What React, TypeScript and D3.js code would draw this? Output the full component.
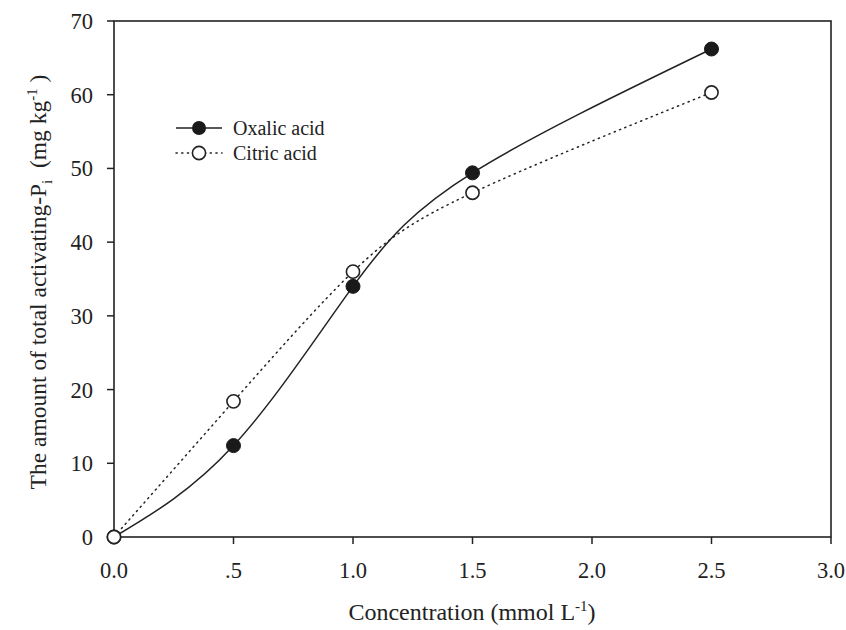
import React from "react";
import { scaleLinear, line, curveNatural } from "d3";

const concentrations = [0, 0.5, 1.0, 1.5, 2.5];
const oxalicValues = [0, 12.4, 34.0, 49.4, 66.2];
const citricValues = [0, 18.4, 36.0, 46.7, 60.3];
const xTicks = [0, 0.5, 1.0, 1.5, 2.0, 2.5, 3.0];
const xTickLabels = ["0.0", ".5", "1.0", "1.5", "2.0", "2.5", "3.0"];
const yTicks = [0, 10, 20, 30, 40, 50, 60, 70];

const W = 846;
const H = 630;
const margin = { left: 114, top: 21, right: 15, bottom: 93 };
const FONT = "'Liberation Serif', 'Times New Roman', serif";
const INK = "#222";

function App() {
  const x = scaleLinear().domain([0, 3]).range([margin.left, W - margin.right]);
  const y = scaleLinear().domain([0, 70]).range([H - margin.bottom, margin.top]);

  const pts = (vals: number[]) => concentrations.map((c, i) => [c, vals[i]] as [number, number]);
  const path = line<[number, number]>()
    .x(d => x(d[0]))
    .y(d => y(d[1]))
    .curve(curveNatural);

  const x0 = x(0), x1 = x(3), y0 = y(0), y1 = y(70);

  return (
    <svg width={W} height={H} style={{ position: "absolute", left: 0, top: 0 }} fontFamily={FONT}>
      <rect width={W} height={H} fill="#fff" />
      {/* frame */}
      <rect x={x0} y={y1} width={x1 - x0} height={y0 - y1} fill="none" stroke={INK} strokeWidth={1.6} />

      {/* x ticks */}
      {xTicks.map((t, i) => (
        <g key={"x" + i}>
          <line x1={x(t)} x2={x(t)} y1={y0} y2={y0 + 7} stroke={INK} strokeWidth={1.5} />
          <text x={x(t)} y={578} textAnchor="middle" fontSize={22.5} fill={INK}>{xTickLabels[i]}</text>
        </g>
      ))}

      {/* y ticks */}
      {yTicks.map(t => (
        <g key={"y" + t}>
          <line x1={x0 - 7} x2={x0} y1={y(t)} y2={y(t)} stroke={INK} strokeWidth={1.5} />
          <text x={x0 - 21} y={y(t) + 8} textAnchor="end" fontSize={22.5} fill={INK}>{t}</text>
        </g>
      ))}

      {/* curves */}
      <path d={path(pts(citricValues)) || ""} fill="none" stroke={INK} strokeWidth={1.5}
        strokeDasharray="1.2 4.5" strokeLinecap="round" />
      <path d={path(pts(oxalicValues)) || ""} fill="none" stroke={INK} strokeWidth={1.5} />

      {/* markers */}
      {concentrations.map((c, i) => (
        <circle key={"o" + i} cx={x(c)} cy={y(oxalicValues[i])} r={7} fill="#1a1a1a" stroke="#1a1a1a" strokeWidth={1} />
      ))}
      {concentrations.map((c, i) => (
        <circle key={"c" + i} cx={x(c)} cy={y(citricValues[i])} r={6.6} fill="#fff" stroke={INK} strokeWidth={1.6} />
      ))}

      {/* legend */}
      <line x1={176} x2={222} y1={128} y2={128} stroke={INK} strokeWidth={1.5} />
      <circle cx={199} cy={128} r={7} fill="#1a1a1a" />
      <text x={233} y={135} fontSize={20} fill={INK}>Oxalic acid</text>
      <line x1={176} x2={222} y1={153} y2={153} stroke={INK} strokeWidth={1.5}
        strokeDasharray="1.2 4.5" strokeLinecap="round" />
      <circle cx={199} cy={153} r={6.6} fill="#fff" stroke={INK} strokeWidth={1.6} />
      <text x={233} y={160} fontSize={20} fill={INK}>Citric acid</text>

      {/* axis titles */}
      <text x={472} y={620} textAnchor="middle" fontSize={24} fill={INK}>
        Concentration (mmol L<tspan dy={-9} fontSize={15}>-1</tspan><tspan dy={9}>)</tspan>
      </text>
      <text transform={`translate(46, 282) rotate(-90)`} textAnchor="middle" fontSize={23.5} fill={INK}>
        The amount of total activating-P<tspan dy={6} fontSize={15}>i</tspan>
        <tspan dy={-6} xmlSpace="preserve">{"\u00a0\u00a0(mg kg"}</tspan><tspan dy={-9} fontSize={15}>-1</tspan><tspan dy={9}>{"\u00a0)"}</tspan>
      </text>
    </svg>
  );
}

export default App;
